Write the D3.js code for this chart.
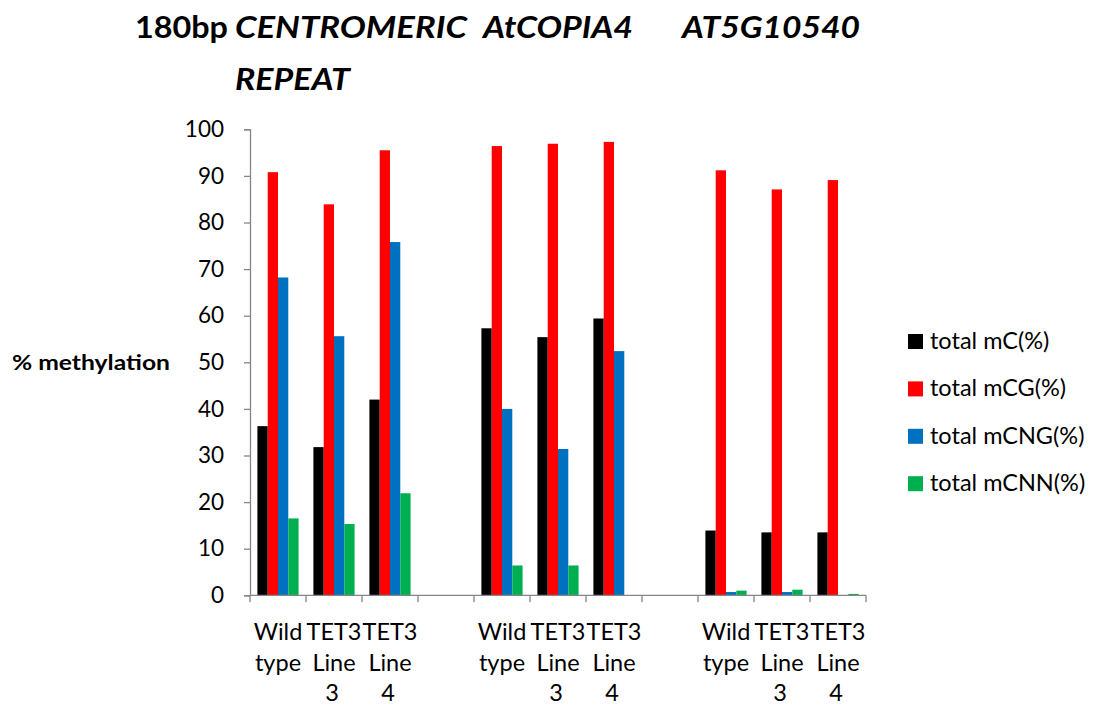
<!DOCTYPE html>
<html>
<head>
<meta charset="utf-8">
<script src="https://cdn.jsdelivr.net/npm/d3@7"></script>
<style>
  html, body { margin: 0; padding: 0; background: #fff; }
  svg { display: block; font-family: Lato, "Open Sans", sans-serif; }
</style>
</head>
<body>
<svg id="chart" width="1095" height="706"></svg>
<script>
// Loci (chart groups) and plant lines within each group
const loci = ["180bp CENTROMERIC REPEAT", "AtCOPIA4", "AT5G10540"];
const plantLines = [["Wild", "type"], ["TET3", "Line", "3"], ["TET3", "Line", "4"]];

// Methylation percentages, ordered locus by locus, plant line by plant line
const seriesNames = ["total mC(%)", "total mCG(%)", "total mCNG(%)", "total mCNN(%)"];
const mC   = [36.3, 31.8, 42.0, 57.3, 55.4, 59.4, 13.9, 13.5, 13.5];
const mCG  = [90.8, 83.9, 95.5, 96.4, 96.9, 97.3, 91.2, 87.1, 89.1];
const mCNG = [68.2, 55.6, 75.8, 40.0, 31.4, 52.4, 0.7, 0.7, 0.0];
const mCNN = [16.5, 15.3, 21.9, 6.4, 6.4, 0.0, 1.0, 1.2, 0.3];
const seriesColors = ["#000000", "#FF0000", "#0070C0", "#00B050"];

const yTicks = [0, 10, 20, 30, 40, 50, 60, 70, 80, 90, 100];

// Build the category slots: three plant lines per locus, with a blank slot between loci
const slots = [];
loci.forEach((locus, li) => {
  plantLines.forEach((pl, pi) => {
    const idx = li * plantLines.length + pi;
    slots.push({ id: locus + "|" + pi, label: pl, values: [mC[idx], mCG[idx], mCNG[idx], mCNN[idx]] });
  });
  if (li < loci.length - 1) slots.push({ id: locus + "|gap", label: [], values: null });
});

const svg = d3.select("#chart");
const plotLeft = 250, plotRight = 866;

const x = d3.scaleBand()
  .domain(slots.map(d => d.id))
  .range([plotLeft, plotRight])
  .paddingInner(0).paddingOuter(0);

const xs = d3.scaleBand()
  .domain(seriesNames)
  .range([0, x.bandwidth()])
  .paddingInner(0).paddingOuter(0.72);

const y = d3.scaleLinear().domain([0, 100]).range([595.3, 129.3]);

const axisColor = "#868686";

// Bars
const barData = [];
slots.forEach(s => {
  if (!s.values) return;
  s.values.forEach((v, i) => barData.push({ slot: s.id, series: seriesNames[i], color: seriesColors[i], v }));
});
svg.append("g").selectAll("rect")
  .data(barData)
  .join("rect")
  .attr("x", d => x(d.slot) + xs(d.series))
  .attr("width", xs.bandwidth())
  .attr("y", d => y(d.v))
  .attr("height", d => y(0) - y(d.v))
  .attr("fill", d => d.color);

// Y axis
const yAxis = svg.append("g")
  .attr("transform", `translate(${plotLeft},0)`)
  .call(d3.axisLeft(y).tickValues(yTicks).tickSize(6).tickSizeOuter(6).tickPadding(20));
yAxis.select(".domain").attr("stroke", axisColor).attr("stroke-width", 1.3);
yAxis.selectAll(".tick line").attr("stroke", axisColor).attr("stroke-width", 1.3);
yAxis.selectAll(".tick text")
  .attr("font-family", "Lato, sans-serif")
  .attr("font-size", 22.5)
  .attr("fill", "#000");

// X axis: line with tick marks at slot boundaries
const xAxisG = svg.append("g").attr("transform", `translate(0,${y(0)})`);
xAxisG.append("line")
  .attr("x1", plotLeft).attr("x2", plotRight)
  .attr("stroke", axisColor).attr("stroke-width", 1.3);
const boundaries = slots.map(s => x(s.id)).concat([x(slots[slots.length - 1].id) + x.bandwidth()]);
xAxisG.selectAll("line.tk")
  .data(boundaries)
  .join("line")
  .attr("class", "tk")
  .attr("x1", d => d).attr("x2", d => d)
  .attr("y1", 0).attr("y2", 7)
  .attr("stroke", axisColor).attr("stroke-width", 1.3);

// Category labels (wrapped, centred in each slot)
const catG = svg.append("g").attr("font-size", 23.5).attr("fill", "#000").attr("text-anchor", "middle");
slots.forEach(s => {
  const cx = x(s.id) + x.bandwidth() / 2;
  s.label.forEach((ln, k) => {
    catG.append("text")
      .attr("x", cx + (k === 2 ? -2 : 0))
      .attr("y", 640 + k * 30.5)
      .text(ln);
  });
});

// Y axis title
svg.append("text")
  .attr("x", 12).attr("y", 370)
  .attr("font-size", 20).attr("font-weight", 700)
  .attr("textLength", 158).attr("lengthAdjust", "spacingAndGlyphs")
  .text("% methylation");

// Chart title: locus names above each group
const titleParts = [
  { t: "180bp", x: 135, y: 38, w: 93, italic: false },
  { t: "CENTROMERIC", x: 235, y: 38, w: 232, italic: true },
  { t: "AtCOPIA4", x: 483, y: 38, w: 150, italic: true },
  { t: "AT5G10540", x: 682, y: 38, w: 178, italic: true },
  { t: "REPEAT", x: 235, y: 90, w: 115, italic: true }
];
svg.append("g").selectAll("text")
  .data(titleParts)
  .join("text")
  .attr("x", d => d.x).attr("y", d => d.y)
  .attr("font-size", 31).attr("font-weight", 700)
  .attr("font-style", d => d.italic ? "italic" : "normal")
  .attr("textLength", d => d.w).attr("lengthAdjust", "spacingAndGlyphs")
  .text(d => d.t);

// Legend
const legend = svg.append("g");
seriesNames.forEach((name, i) => {
  const cy = 341 + i * 47.4;
  legend.append("rect")
    .attr("x", 908).attr("y", cy - 7)
    .attr("width", 15).attr("height", 15)
    .attr("fill", seriesColors[i]);
  legend.append("text")
    .attr("x", 930).attr("y", cy + 8)
    .attr("font-size", 23.5)
    .text(name);
});
</script>
</body>
</html>
